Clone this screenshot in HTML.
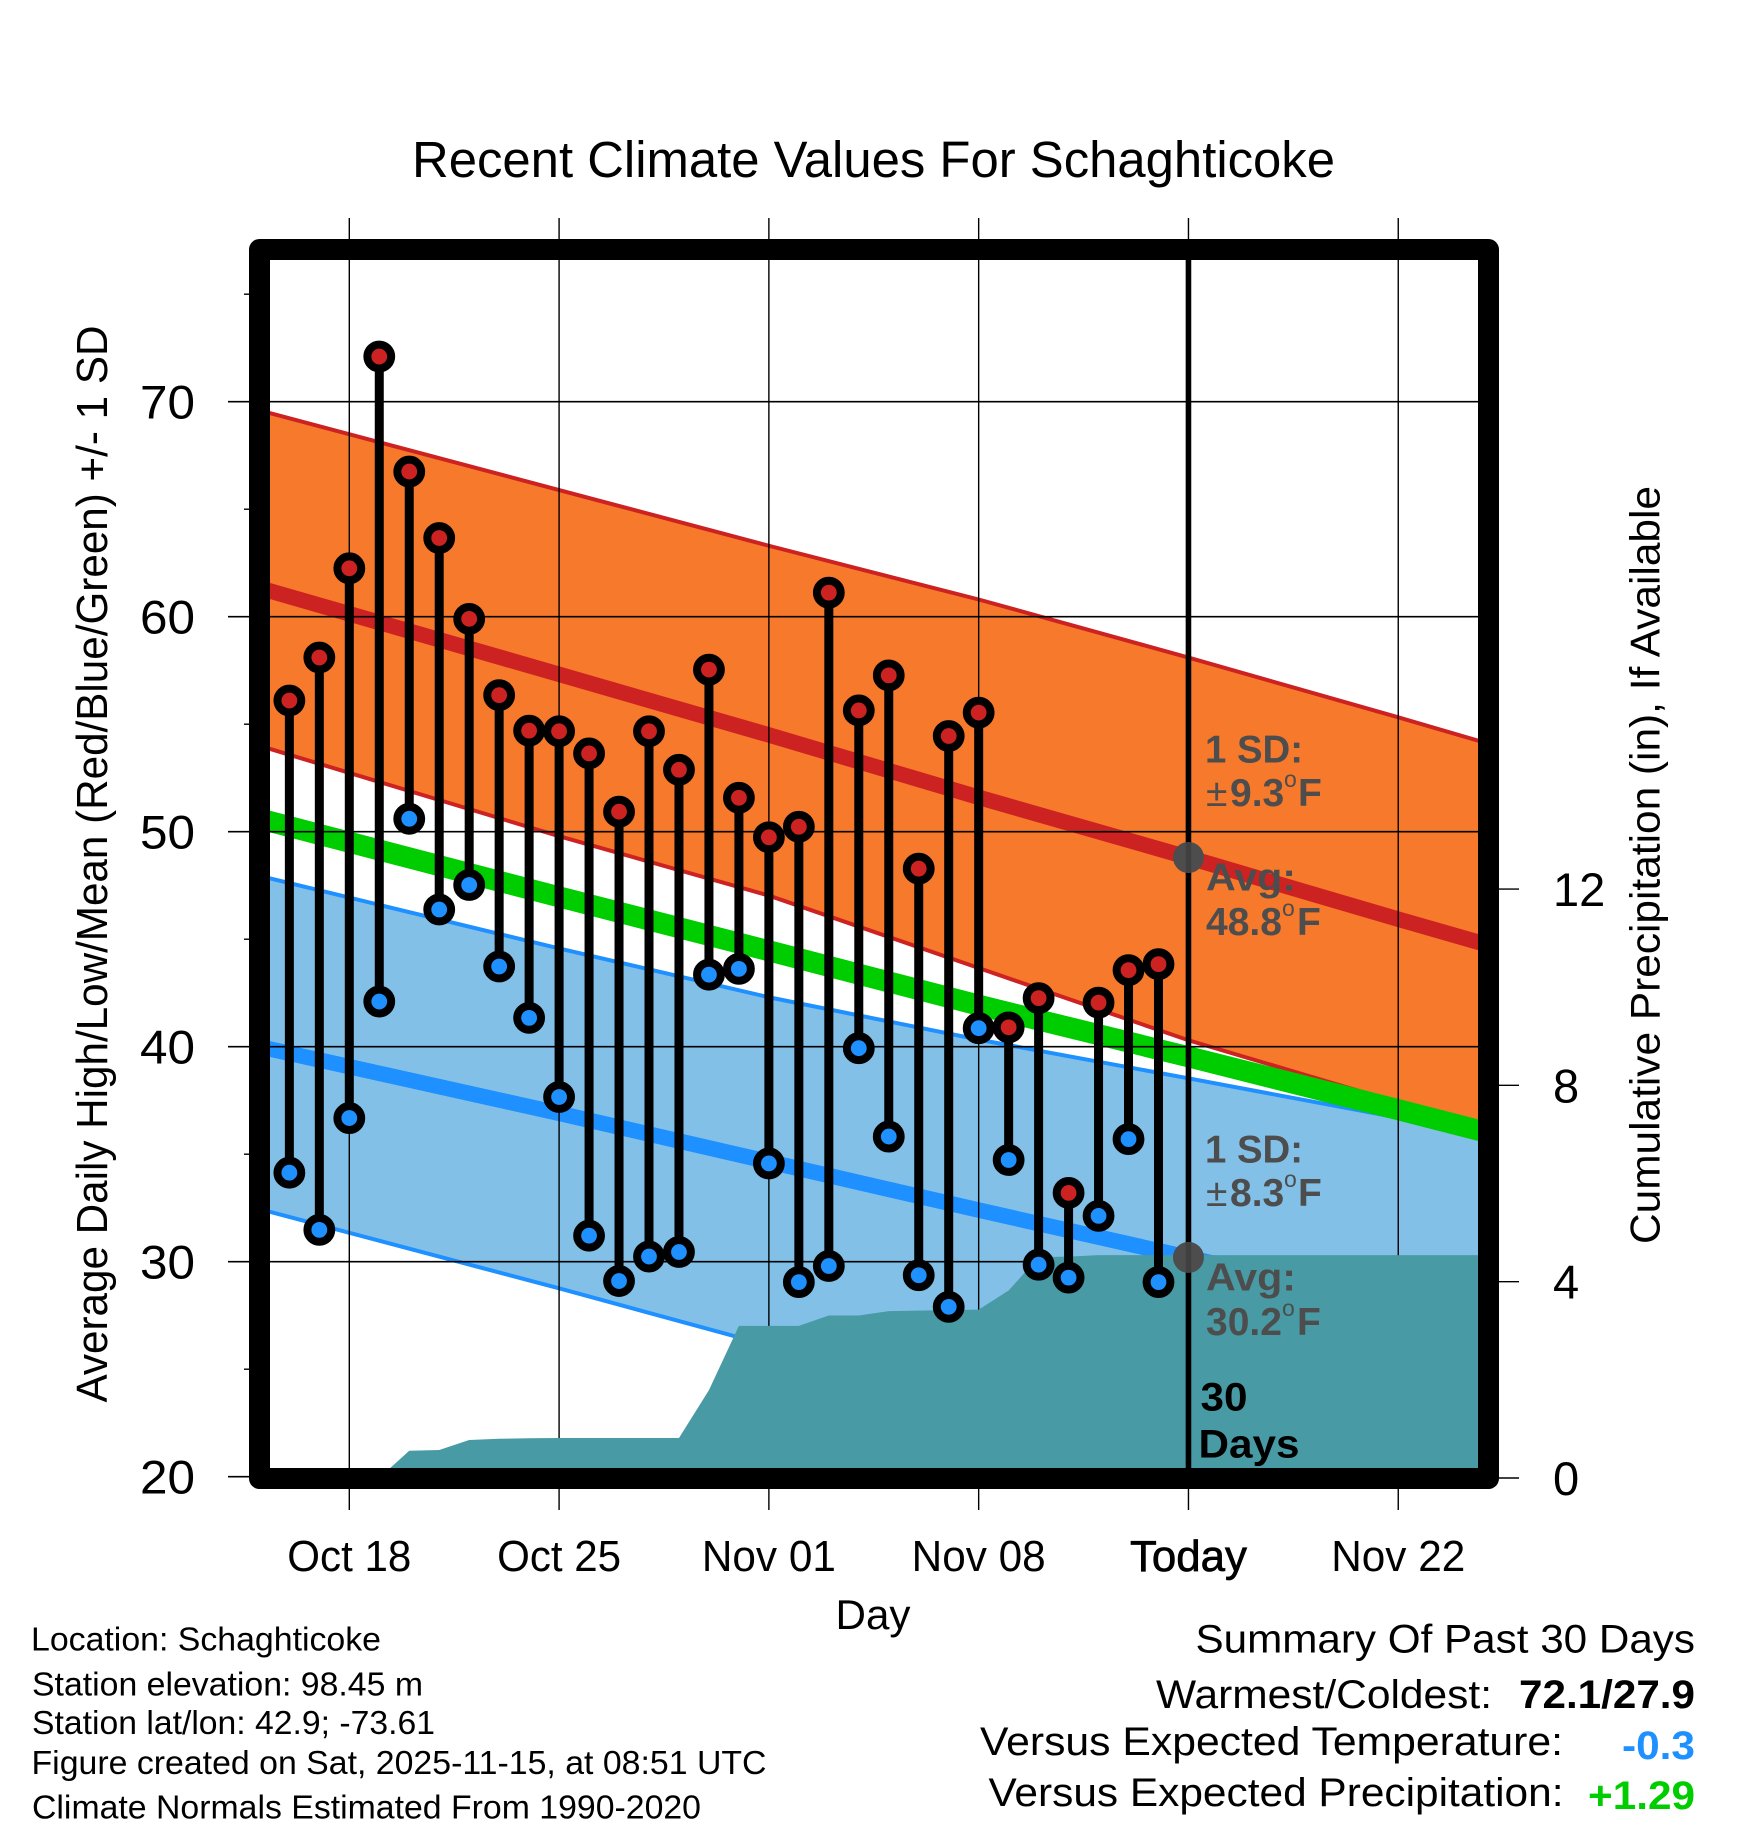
<!DOCTYPE html>
<html lang="en">
<head>
<meta charset="utf-8">
<title>Recent Climate Values For Schaghticoke</title>
<style>
html,body{margin:0;padding:0;background:#fff;}
svg{display:block;font-family:"Liberation Sans",sans-serif;}
</style>
</head>
<body>
<svg id="chart" xmlns="http://www.w3.org/2000/svg" width="1748" height="1828" viewBox="0 0 1748 1828">
  <defs>
    <clipPath id="plot-clip"><rect x="259.5" y="249.5" width="1229" height="1229"/></clipPath>
  </defs>
  <rect x="0" y="0" width="1748" height="1828" fill="#ffffff"/>
  <g id="plot"></g>

  <text x="412" y="177" font-size="51" textLength="923" lengthAdjust="spacingAndGlyphs">Recent Climate Values For Schaghticoke</text>
  <text x="873" y="1629" font-size="42" text-anchor="middle" textLength="75" lengthAdjust="spacingAndGlyphs">Day</text>
  <text transform="translate(107,864) rotate(-90)" font-size="44" text-anchor="middle" textLength="1077" lengthAdjust="spacingAndGlyphs">Average Daily High/Low/Mean (Red/Blue/Green) +/- 1 SD</text>
  <text transform="translate(1659.5,865) rotate(-90)" font-size="42" text-anchor="middle" textLength="758" lengthAdjust="spacingAndGlyphs">Cumulative Precipitation (in), If Available</text>

  <g fill="#4d4d4d" font-weight="bold" font-size="39">
    <text x="1205" y="762.7" textLength="98" lengthAdjust="spacingAndGlyphs">1 SD:</text>
    <text y="806"><tspan x="1206" font-weight="normal">±</tspan><tspan x="1230">9.3</tspan><tspan x="1284" y="787" font-size="23" font-weight="normal">o</tspan><tspan x="1298" y="806">F</tspan></text>
    <text x="1206" y="890.7" textLength="90" lengthAdjust="spacingAndGlyphs">Avg:</text>
    <text y="935"><tspan x="1206">48.8</tspan><tspan x="1282" y="916" font-size="23" font-weight="normal">o</tspan><tspan x="1297" y="935">F</tspan></text>
  </g>
  <g fill="#4d4d4d" font-weight="bold" font-size="39">
    <text x="1205" y="1162.7" textLength="98" lengthAdjust="spacingAndGlyphs">1 SD:</text>
    <text y="1206"><tspan x="1206" font-weight="normal">±</tspan><tspan x="1230">8.3</tspan><tspan x="1284" y="1187" font-size="23" font-weight="normal">o</tspan><tspan x="1298" y="1206">F</tspan></text>
    <text x="1206" y="1290.7" textLength="90" lengthAdjust="spacingAndGlyphs">Avg:</text>
    <text y="1335"><tspan x="1206">30.2</tspan><tspan x="1282" y="1316" font-size="23" font-weight="normal">o</tspan><tspan x="1297" y="1335">F</tspan></text>
  </g>
  <text x="1200.5" y="1410.7" font-size="40" font-weight="bold" fill="#000" textLength="47" lengthAdjust="spacingAndGlyphs">30</text>
  <text x="1198.5" y="1457.3" font-size="40" font-weight="bold" fill="#000" textLength="101" lengthAdjust="spacingAndGlyphs">Days</text>

  <g font-size="33" fill="#000">
    <text x="31" y="1650.7" textLength="350" lengthAdjust="spacingAndGlyphs">Location: Schaghticoke</text>
    <text x="32" y="1695.7" textLength="391" lengthAdjust="spacingAndGlyphs">Station elevation: 98.45 m</text>
    <text x="32" y="1734" textLength="403" lengthAdjust="spacingAndGlyphs">Station lat/lon: 42.9; -73.61</text>
    <text x="31.5" y="1774" textLength="735" lengthAdjust="spacingAndGlyphs">Figure created on Sat, 2025-11-15, at 08:51 UTC</text>
    <text x="32" y="1818.7" textLength="669" lengthAdjust="spacingAndGlyphs">Climate Normals Estimated From 1990-2020</text>
  </g>

  <g font-size="40" fill="#000">
    <text x="1195.5" y="1652.7" textLength="499.5" lengthAdjust="spacingAndGlyphs">Summary Of Past 30 Days</text>
    <text x="1156" y="1708" textLength="336" lengthAdjust="spacingAndGlyphs">Warmest/Coldest:</text>
    <text x="1519" y="1708" font-weight="bold" textLength="176" lengthAdjust="spacingAndGlyphs">72.1/27.9</text>
    <text x="980" y="1755" textLength="583" lengthAdjust="spacingAndGlyphs">Versus Expected Temperature:</text>
    <text x="1622" y="1759" font-weight="bold" fill="#1e90ff" textLength="73" lengthAdjust="spacingAndGlyphs">-0.3</text>
    <text x="988.5" y="1806" textLength="575" lengthAdjust="spacingAndGlyphs">Versus Expected Precipitation:</text>
    <text x="1588" y="1809" font-weight="bold" fill="#00cd00" textLength="107" lengthAdjust="spacingAndGlyphs">+1.29</text>
  </g>
</svg>

<script>
// Chart data. Day numbers count from Oct 18 = 0.
const normalDays = [-3, 7, 14, 21, 28, 35, 38];
const highUpper = [69.6, 65.89, 63.3, 60.8, 58.1, 55.32, 54.1];
const highAvg = [61.34, 57.32, 54.5, 51.6, 48.8, 45.93, 44.73];
const highLower = [54.0, 49.79, 47.03, 43.66, 40.3, 37.4, 36.2];
const meanAvg = [50.6, 46.97, 44.46, 41.93, 39.53, 37.07, 36.0];
const lowUpper = [47.95, 44.57, 42.3, 40.33, 38.53, 36.7, 35.9];
const lowAvg = [40.0, 36.9, 34.65, 32.4, 30.2, 27.9, 27.0];
const lowLower = [32.45, 28.76, 26.1, 24.0, 22.0, 20.0, 19.5];

const firstObservedDay = -2;
const dailyHigh = [56.1, 58.1, 62.25, 72.1, 66.75, 63.66, 59.9, 56.35, 54.7, 54.67, 53.64, 50.93, 54.67, 52.88, 57.54, 51.58, 49.74, 50.23, 61.12, 55.64, 57.27, 48.28, 54.45, 55.54, 40.9, 42.26, 33.2, 42.05, 43.56, 43.84];
const dailyLow = [34.14, 31.48, 36.68, 42.1, 50.6, 46.38, 47.52, 43.73, 41.34, 37.66, 31.21, 29.1, 30.24, 30.45, 43.35, 43.62, 34.57, 29.05, 29.8, 39.93, 35.82, 29.37, 27.9, 40.86, 34.73, 29.86, 29.26, 32.13, 35.7, 29.05];
const cumulativePrecip = [0, 0, 0, 0, 0.556, 0.57, 0.774, 0.8, 0.81, 0.815, 0.815, 0.815, 0.815, 0.815, 1.79, 3.1, 3.1, 3.1, 3.31, 3.31, 3.4, 3.41, 3.42, 3.43, 3.82, 4.5, 4.51, 4.54, 4.54, 4.54];

const xTickDays = [0, 7, 14, 21, 28, 35];
const xTickLabels = ['Oct 18', 'Oct 25', 'Nov 01', 'Nov 08', 'Today', 'Nov 22'];
const yMajorTicks = [20, 30, 40, 50, 60, 70];
const yMinorTicks = [25, 35, 45, 55, 65, 75];
const precipTicks = [0, 4, 8, 12];
const todayDay = 28;
const todayValues = [48.8, 30.2];
const lastDay = 38;

const SVG_NS = 'http://www.w3.org/2000/svg';
const plot = document.getElementById('plot');
const xPos = d => 349.3 + d * 29.97;
const yPos = v => 1476.7 - (v - 20) * 21.5;
const yPrecip = p => 1478 - p * 49.08;

function mk(tag, attrs, parent) {
  const el = document.createElementNS(SVG_NS, tag);
  for (const k in attrs) el.setAttribute(k, attrs[k]);
  (parent || plot).appendChild(el);
  return el;
}
function linePoints(values) {
  return values.map((v, i) => xPos(normalDays[i]).toFixed(2) + ',' + yPos(v).toFixed(2));
}
function tickLabelWidth(text) {
  if (text === 'Today') return 117;
  return text.indexOf('Oct') === 0 ? 124 : 134;
}

const clipped = mk('g', {'clip-path': 'url(#plot-clip)'});



// Bands
const highBand = mk('polygon', {points: linePoints(highUpper).concat(linePoints(highLower).reverse()).join(' '), fill: '#f7792b'}, clipped);


const highUpperLine = mk('polyline', {points: linePoints(highUpper).join(' '), fill: 'none', stroke: '#cd2222', 'stroke-width': 4}, clipped);


const highLowerLine = mk('polyline', {points: linePoints(highLower).join(' '), fill: 'none', stroke: '#cd2222', 'stroke-width': 4}, clipped);


const highAvgLine = mk('polyline', {points: linePoints(highAvg).join(' '), fill: 'none', stroke: '#cd2222', 'stroke-width': 15.5}, clipped);



const lowBand = mk('polygon', {points: linePoints(lowUpper).concat(linePoints(lowLower).reverse()).join(' '), fill: '#82c0e8'}, clipped);


const lowUpperLine = mk('polyline', {points: linePoints(lowUpper).join(' '), fill: 'none', stroke: '#1e90ff', 'stroke-width': 4}, clipped);


const lowLowerLine = mk('polyline', {points: linePoints(lowLower).join(' '), fill: 'none', stroke: '#1e90ff', 'stroke-width': 4}, clipped);


const lowAvgLine = mk('polyline', {points: linePoints(lowAvg).join(' '), fill: 'none', stroke: '#1e90ff', 'stroke-width': 15.5}, clipped);



const meanLine = mk('polyline', {points: linePoints(meanAvg).join(' '), fill: 'none', stroke: '#00cd00', 'stroke-width': 21}, clipped);



// Grid lines and ticks
yMajorTicks.forEach(v => {
  const gridLine = mk('line', {x1: 228, x2: v === 20 ? 250 : 1480, y1: yPos(v), y2: yPos(v), stroke: '#000', 'stroke-width': 1.7});
  
  
  const label = mk('text', {x: 195, y: yPos(v) + 17, 'font-size': 47, 'text-anchor': 'end', textLength: 55, lengthAdjust: 'spacingAndGlyphs'});
  label.textContent = String(v);
  
  
});
yMinorTicks.forEach(v => {
  const tick = mk('line', {x1: 244, x2: 250, y1: yPos(v), y2: yPos(v), stroke: '#000', 'stroke-width': 1.4});
  
  
});
xTickDays.forEach((d, i) => {
  const gridLine = mk('line', {x1: xPos(d), x2: xPos(d), y1: 218, y2: 1510, stroke: '#000', 'stroke-width': 1.4});
  
  
  const isToday = d === todayDay;
  const label = mk('text', {x: xPos(d), y: 1571, 'font-size': 44, 'text-anchor': 'middle', textLength: tickLabelWidth(xTickLabels[i]), lengthAdjust: 'spacingAndGlyphs'});
  if (isToday) { label.setAttribute('stroke', '#000'); label.setAttribute('stroke-width', '0.7'); }
  label.textContent = xTickLabels[i];
  
  
});
precipTicks.forEach(p => {
  const tick = mk('line', {x1: 1498, x2: 1519, y1: yPrecip(p), y2: yPrecip(p), stroke: '#000', 'stroke-width': 1.4});
  
  
  const label = mk('text', {x: 1553, y: yPrecip(p) + 17, 'font-size': 47});
  label.textContent = String(p);
  
  
});

// Precipitation area
const areaPts = [xPos(firstObservedDay) + ',' + yPrecip(0)];
cumulativePrecip.forEach((p, i) => areaPts.push(xPos(firstObservedDay + i).toFixed(2) + ',' + yPrecip(p).toFixed(2)));
areaPts.push(xPos(lastDay) + ',' + yPrecip(cumulativePrecip[cumulativePrecip.length - 1]).toFixed(2));
areaPts.push(xPos(lastDay) + ',' + yPrecip(0));
const precipArea = mk('polygon', {points: areaPts.join(' '), fill: '#489aa5'});
precipArea.setAttribute('clip-path', 'url(#plot-clip)');



// Daily stems and markers
dailyHigh.forEach((hi, i) => {
  const d = firstObservedDay + i;
  const stem = mk('line', {x1: xPos(d), x2: xPos(d), y1: yPos(hi), y2: yPos(dailyLow[i]), stroke: '#000', 'stroke-width': 9});
  
  
  const hiDot = mk('circle', {cx: xPos(d), cy: yPos(hi), r: 11.9, fill: '#cd2222', stroke: '#000', 'stroke-width': 8});
  
  
  const loDot = mk('circle', {cx: xPos(d), cy: yPos(dailyLow[i]), r: 11.9, fill: '#1e90ff', stroke: '#000', 'stroke-width': 8});
  
  
});

// Today line and normal markers
const todayLine = mk('line', {x1: xPos(todayDay), x2: xPos(todayDay), y1: 255, y2: 1472, stroke: '#000', 'stroke-width': 5.6});


todayValues.forEach(v => {
  const dot = mk('circle', {cx: xPos(todayDay), cy: yPos(v), r: 15.5, fill: '#4d4d4d'});
  
  
  const core = mk('line', {x1: xPos(todayDay), x2: xPos(todayDay), y1: yPos(v) - 15, y2: yPos(v) + 15, stroke: '#404040', 'stroke-width': 5.6});
  
  
});

// Frame
const frame = mk('rect', {x: 259.5, y: 249.5, width: 1229, height: 1229, fill: 'none', stroke: '#000', 'stroke-width': 21, 'stroke-linejoin': 'round'});


</script>
</body>
</html>
